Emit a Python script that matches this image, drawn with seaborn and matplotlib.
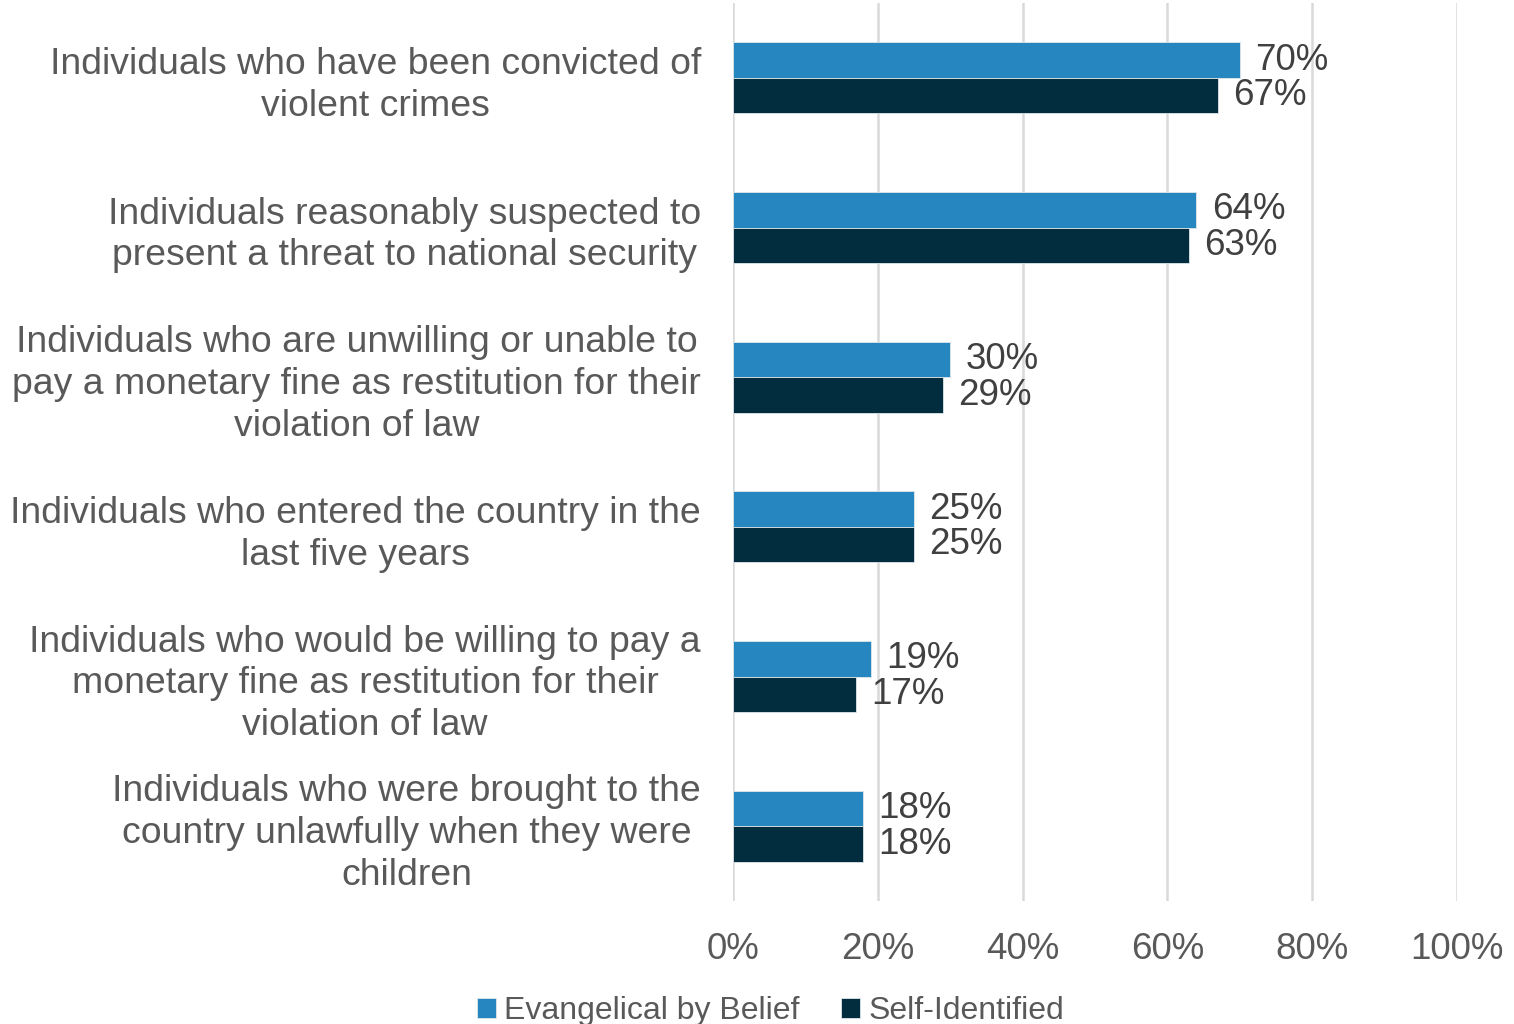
import pandas as pd
import numpy as np
import matplotlib.pyplot as plt
import seaborn as sns

# chart data
categories = [
    "Individuals who have been convicted of\nviolent crimes",
    "Individuals reasonably suspected to\npresent a threat to national security",
    "Individuals who are unwilling or unable to\npay a monetary fine as restitution for their\nviolation of law",
    "Individuals who entered the country in the\nlast five years",
    "Individuals who would be willing to pay a\nmonetary fine as restitution for their\nviolation of law",
    "Individuals who were brought to the\ncountry unlawfully when they were\nchildren",
]
evangelical_by_belief = [70, 64, 30, 25, 19, 18]
self_identified = [67, 63, 29, 25, 17, 18]
series_names = ["Evangelical by Belief", "Self-Identified"]
x_ticks = [0, 20, 40, 60, 80, 100]

# long format for seaborn
df = pd.DataFrame({
    "category": categories * 2,
    "value": evangelical_by_belief + self_identified,
    "group": [series_names[0]] * len(categories) + [series_names[1]] * len(categories),
})

sns.set_style("white")
plt.rcParams["font.family"] = ["Liberation Sans", "DejaVu Sans"]

fig = plt.figure(figsize=(15.14, 10.24), dpi=100)
ax = fig.add_axes([0.4841, 0.120, 0.9624 - 0.4841, 0.997 - 0.120])

sns.barplot(
    data=df, x="value", y="category", hue="group", orient="h",
    palette=["#2586C0", "#022D3E"], saturation=1, width=0.475, ax=ax,
    edgecolor="#dfe6ea", linewidth=0.6, legend=True,
)

# data labels
for cont in ax.containers:
    ax.bar_label(cont, labels=[f"{v:.0f}%" for v in cont.datavalues],
                 padding=11, fontsize=26.5, color="#404040")

# axes styling
ax.set_xlim(0, 100)
ax.set_xticks(x_ticks)
ax.set_xticklabels([f"{t}%" for t in x_ticks])
ax.grid(axis="x", color="#D9D9D9", linewidth=1.8)
ax.set_axisbelow(True)
for s in ax.spines.values():
    s.set_visible(False)
ax.set_xlabel("")
ax.set_ylabel("")
ax.tick_params(axis="x", length=0, pad=22, labelsize=26.5, labelcolor="#595959")
ax.tick_params(axis="y", length=0, pad=23, labelsize=26.9, labelcolor="#595959")
for lbl in ax.get_yticklabels():
    lbl.set_multialignment("center")
    lbl.set_linespacing(1.25)

# legend at the bottom
handles, labels = ax.get_legend_handles_labels()
ax.get_legend().remove()
fig.legend(handles, labels, loc="lower center", bbox_to_anchor=(0.509, -0.03),
           ncol=2, frameon=False, fontsize=23, labelcolor="#595959",
           handlelength=0.6, handleheight=0.6, handletextpad=0.25, columnspacing=1.3)

plt.savefig("out.png", dpi=100)
